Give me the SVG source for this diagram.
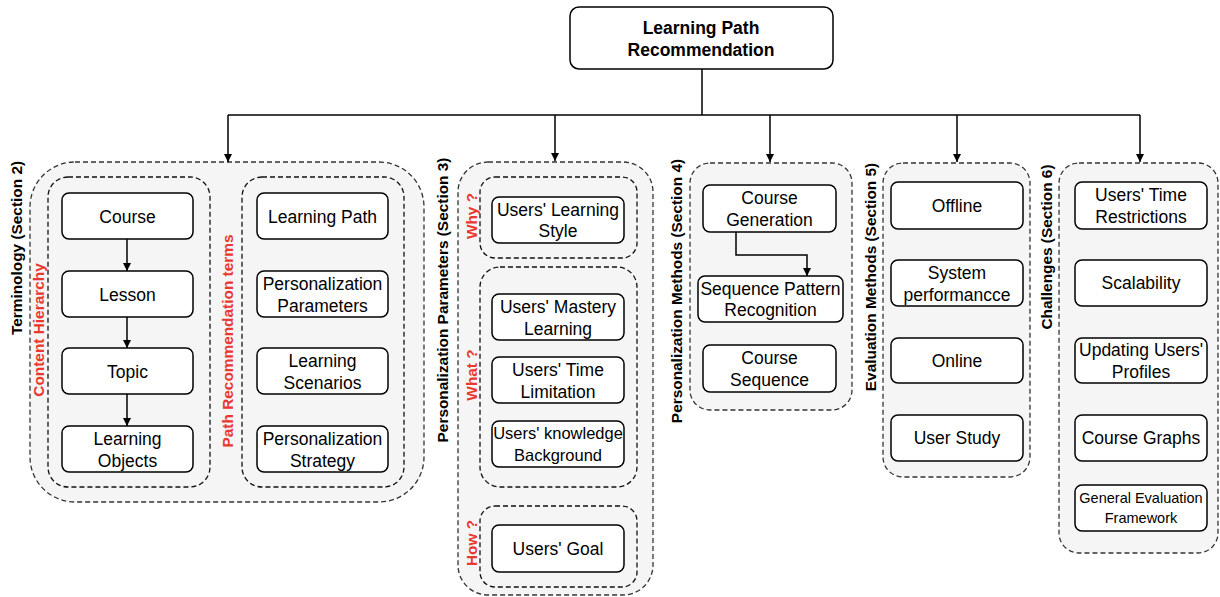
<svg xmlns="http://www.w3.org/2000/svg" width="1220" height="597" viewBox="0 0 1220 597">
  <defs>
    <marker id="arr" viewBox="0 0 10 10" refX="10" refY="5" markerWidth="8" markerHeight="8" markerUnits="userSpaceOnUse" orient="auto">
      <path d="M0,0 L10,5 L0,10 Z" fill="#000"/>
    </marker>
    <style>
      .group { fill: #f5f5f5; stroke: #333; stroke-width: 1.3; stroke-dasharray: 5 3; }
      .sub { fill: none; stroke: #111; stroke-width: 1.3; stroke-dasharray: 5 3; }
      .node { fill: #fff; stroke: #000; stroke-width: 1.5; }
      .t { font-family: "Liberation Sans", Arial, sans-serif; font-size: 17.5px; fill: #000; text-anchor: middle; }
      .ts { font-size: 16.5px; }
      .tx { font-size: 14.5px; }
      .title { font-family: "Liberation Sans", Arial, sans-serif; font-size: 17.5px; font-weight: bold; text-anchor: middle; }
      .sec { font-family: "Liberation Sans", Arial, sans-serif; font-size: 15.4px; font-weight: bold; fill: #000; text-anchor: middle; }
      .red { font-family: "Liberation Sans", Arial, sans-serif; font-size: 15.4px; font-weight: bold; fill: #e8382f; text-anchor: middle; }
      .edge { fill: none; stroke: #000; stroke-width: 1.5; }
    </style>
  </defs>

  <!-- containers -->
  <g id="terminology">
    <rect class="group" x="30" y="162" width="394" height="340" rx="45"/>
    <text class="sec" transform="translate(22,248) rotate(-90)">Terminology (Section 2)</text>
    <rect class="sub" x="48" y="177" width="162" height="310" rx="20"/>
    <text class="red" transform="translate(44,330) rotate(-90)">Content Hierarchy</text>
    <rect class="sub" x="242" y="177" width="162" height="310" rx="20"/>
    <text class="red" transform="translate(233,341) rotate(-90)">Path Recommendation terms</text>
  </g>
  <g id="parameters">
    <rect class="group" x="458" y="162" width="195" height="433" rx="30"/>
    <text class="sec" transform="translate(448,300) rotate(-90)">Personalization Parameters (Section 3)</text>
    <rect class="sub" x="480" y="177" width="157" height="81" rx="15"/>
    <text class="red" transform="translate(477,216) rotate(-90)">Why ?</text>
    <rect class="sub" x="480" y="267" width="157" height="220" rx="20"/>
    <text class="red" transform="translate(477,375) rotate(-90)">What ?</text>
    <rect class="sub" x="480" y="506" width="157" height="81" rx="15"/>
    <text class="red" transform="translate(477,543) rotate(-90)">How ?</text>
  </g>
  <g id="methods">
    <rect class="group" x="690" y="163" width="162" height="247" rx="20"/>
    <text class="sec" transform="translate(682,291) rotate(-90)">Personalization Methods (Section 4)</text>
  </g>
  <g id="evaluation">
    <rect class="group" x="883" y="163" width="147" height="314" rx="20"/>
    <text class="sec" transform="translate(876,277) rotate(-90)">Evaluation Methods (Section 5)</text>
  </g>
  <g id="challenges">
    <rect class="group" x="1059" y="163" width="159" height="390" rx="20"/>
    <text class="sec" transform="translate(1052,247) rotate(-90)">Challenges (Section 6)</text>
  </g>

  <!-- connectors -->
  <g id="connectors">
    <path class="edge" d="M702,69 V115"/>
    <path class="edge" d="M228,115 H1140"/>
    <path class="edge" d="M228,115 V162" marker-end="url(#arr)"/>
    <path class="edge" d="M555,115 V161" marker-end="url(#arr)"/>
    <path class="edge" d="M770,115 V162" marker-end="url(#arr)"/>
    <path class="edge" d="M957,115 V162" marker-end="url(#arr)"/>
    <path class="edge" d="M1140,115 V162" marker-end="url(#arr)"/>
    <path class="edge" d="M127,239 V271" marker-end="url(#arr)"/>
    <path class="edge" d="M127,317 V348" marker-end="url(#arr)"/>
    <path class="edge" d="M127,394 V426" marker-end="url(#arr)"/>
    <path class="edge" d="M736,232 V255 H807 V276" marker-end="url(#arr)"/>
  </g>

  <!-- root -->
  <g id="root">
    <rect class="node" x="570" y="7" width="263" height="62" rx="9"/>
    <text class="title" x="701" y="34">Learning Path</text>
    <text class="title" x="701" y="56">Recommendation</text>
  </g>

  <!-- terminology: content hierarchy -->
  <g id="course"><rect class="node" x="62" y="193" width="131" height="46" rx="7"/><text class="t" x="127.5" y="222.5">Course</text></g>
  <g id="lesson"><rect class="node" x="62" y="271" width="131" height="46" rx="7"/><text class="t" x="127.5" y="300.5">Lesson</text></g>
  <g id="topic"><rect class="node" x="62" y="348" width="131" height="46" rx="7"/><text class="t" x="127.5" y="377.5">Topic</text></g>
  <g id="learning-objects"><rect class="node" x="62" y="426" width="131" height="46" rx="7"/><text class="t" x="127.5" y="445">Learning</text><text class="t" x="127.5" y="467">Objects</text></g>

  <!-- terminology: path recommendation terms -->
  <g id="learning-path"><rect class="node" x="257" y="193" width="131" height="46" rx="7"/><text class="t" x="322.5" y="222.5">Learning Path</text></g>
  <g id="pers-parameters"><rect class="node" x="257" y="271" width="131" height="46" rx="7"/><text class="t" x="322.5" y="290">Personalization</text><text class="t" x="322.5" y="312">Parameters</text></g>
  <g id="learning-scenarios"><rect class="node" x="257" y="348" width="131" height="46" rx="7"/><text class="t" x="322.5" y="367">Learning</text><text class="t" x="322.5" y="389">Scenarios</text></g>
  <g id="pers-strategy"><rect class="node" x="257" y="426" width="131" height="46" rx="7"/><text class="t" x="322.5" y="445">Personalization</text><text class="t" x="322.5" y="467">Strategy</text></g>

  <!-- personalization parameters -->
  <g id="learning-style"><rect class="node" x="492" y="197" width="132" height="46" rx="7"/><text class="t" x="558" y="216">Users' Learning</text><text class="t" x="558" y="237">Style</text></g>
  <g id="mastery"><rect class="node" x="492" y="294" width="132" height="46" rx="7"/><text class="t" x="558" y="313">Users' Mastery</text><text class="t" x="558" y="335">Learning</text></g>
  <g id="time-limitation"><rect class="node" x="492" y="357" width="132" height="46" rx="7"/><text class="t" x="558" y="376">Users' Time</text><text class="t" x="558" y="398">Limitation</text></g>
  <g id="knowledge"><rect class="node" x="492" y="421" width="132" height="46" rx="7"/><text class="t ts" x="558" y="439">Users' knowledge</text><text class="t ts" x="558" y="461">Background</text></g>
  <g id="goal"><rect class="node" x="492" y="525" width="132" height="47" rx="7"/><text class="t" x="558" y="555">Users' Goal</text></g>

  <!-- personalization methods -->
  <g id="course-generation"><rect class="node" x="703" y="185" width="133" height="47" rx="7"/><text class="t" x="769.5" y="204">Course</text><text class="t" x="769.5" y="226">Generation</text></g>
  <g id="sequence-pattern"><rect class="node" x="698" y="276" width="145" height="46" rx="7"/><text class="t" x="770.5" y="295">Sequence Pattern</text><text class="t" x="770.5" y="316">Recognition</text></g>
  <g id="course-sequence"><rect class="node" x="703" y="345" width="133" height="47" rx="7"/><text class="t" x="769.5" y="364">Course</text><text class="t" x="769.5" y="386">Sequence</text></g>

  <!-- evaluation methods -->
  <g id="offline"><rect class="node" x="891" y="182" width="132" height="47" rx="7"/><text class="t" x="957" y="212">Offline</text></g>
  <g id="system-perf"><rect class="node" x="891" y="260" width="132" height="46" rx="7"/><text class="t" x="957" y="279">System</text><text class="t" x="957" y="301">performancce</text></g>
  <g id="online"><rect class="node" x="891" y="338" width="132" height="45" rx="7"/><text class="t" x="957" y="367">Online</text></g>
  <g id="user-study"><rect class="node" x="891" y="415" width="132" height="46" rx="7"/><text class="t" x="957" y="444">User Study</text></g>

  <!-- challenges -->
  <g id="time-restrictions"><rect class="node" x="1075" y="182" width="132" height="47" rx="7"/><text class="t" x="1141" y="201">Users' Time</text><text class="t" x="1141" y="223">Restrictions</text></g>
  <g id="scalability"><rect class="node" x="1075" y="260" width="132" height="46" rx="7"/><text class="t" x="1141" y="289">Scalability</text></g>
  <g id="updating-profiles"><rect class="node" x="1075" y="338" width="132" height="45" rx="7"/><text class="t" x="1141" y="356">Updating Users'</text><text class="t" x="1141" y="378">Profiles</text></g>
  <g id="course-graphs"><rect class="node" x="1075" y="415" width="132" height="46" rx="7"/><text class="t" x="1141" y="444">Course Graphs</text></g>
  <g id="general-eval"><rect class="node" x="1075" y="485" width="132" height="46" rx="7"/><text class="t tx" x="1141" y="503">General Evaluation</text><text class="t tx" x="1141" y="523">Framework</text></g>
</svg>
